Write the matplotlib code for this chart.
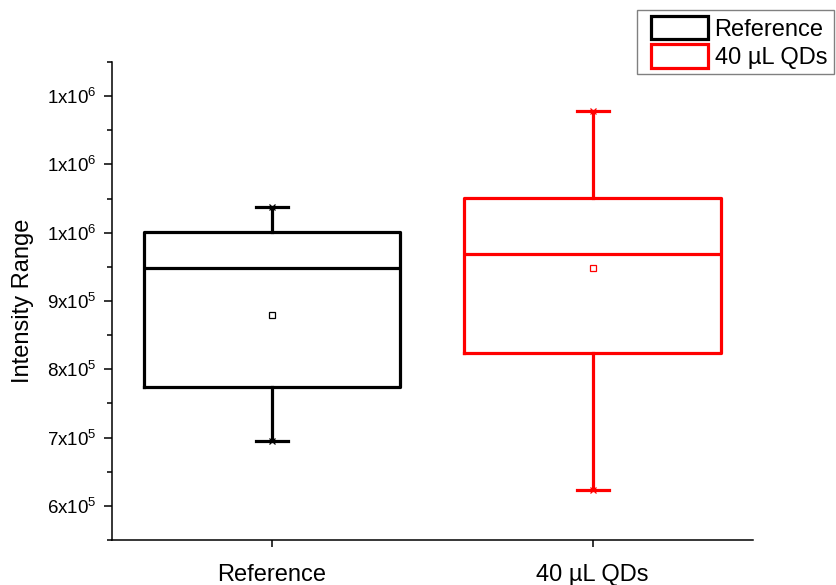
import matplotlib
matplotlib.use("Agg")
import matplotlib.pyplot as plt
from matplotlib.patches import Patch, Rectangle
from matplotlib.ticker import MultipleLocator

plt.rcParams['font.family'] = ['Liberation Sans', 'DejaVu Sans']
plt.rcParams['mathtext.fontset'] = 'custom'
plt.rcParams['mathtext.rm'] = 'Liberation Sans'
plt.rcParams['mathtext.it'] = 'Liberation Sans'

categories = ["Reference", "40 µL QDs"]
colors = ["#000000", "#ff0000"]
whisker_low = [694600, 622500]
q1 = [774000, 824500]
median = [948000, 969100]
q3 = [1001000, 1051500]
whisker_high = [1037800, 1178400]
means = [879900, 949000]

ytick_values = [6e5, 7e5, 8e5, 9e5, 1.0e6, 1.1e6, 1.2e6]
ytick_labels = ["6x10$^{5}$", "7x10$^{5}$", "8x10$^{5}$", "9x10$^{5}$",
                "1x10$^{6}$", "1x10$^{6}$", "1x10$^{6}$"]

fig = plt.figure(figsize=(8.37, 5.85), dpi=100)
ax = fig.add_axes([111.7/837, 45/585, (753-111.7)/837, (540-62)/585])

lw = 2.3
for i, cat in enumerate(categories):
    stats = [dict(label=cat, whislo=whisker_low[i], q1=q1[i], med=median[i],
                  q3=q3[i], whishi=whisker_high[i], mean=means[i], fliers=[])]
    c = colors[i]
    ax.bxp(stats, positions=[i + 1], widths=0.8, capwidths=0.1,
           showmeans=True, showfliers=False, manage_ticks=False,
           boxprops=dict(color=c, linewidth=lw),
           whiskerprops=dict(color=c, linewidth=lw),
           capprops=dict(color=c, linewidth=lw),
           medianprops=dict(color=c, linewidth=lw),
           meanprops=dict(marker='s', markerfacecolor='white',
                          markeredgecolor=c, markersize=4, markeredgewidth=0.9))
    ax.plot([i + 1, i + 1], [whisker_low[i], whisker_high[i]], linestyle='none',
            marker='x', color=c, markersize=5, markeredgewidth=0.9, zorder=5)

ax.set_xlim(0.5, 2.5)
ax.set_ylim(5.5e5, 1.25e6)
ax.set_xticks([1, 2])
ax.set_xticklabels(categories, fontsize=17)
ax.set_yticks(ytick_values)
ax.set_yticklabels(ytick_labels, fontsize=13.5)
ax.yaxis.set_minor_locator(MultipleLocator(5e4))
ax.tick_params(axis='y', which='major', direction='out', length=6, width=1.1, pad=5)
ax.tick_params(axis='y', which='minor', direction='out', length=3.5, width=1.1)
ax.tick_params(axis='x', which='major', direction='out', length=5, width=1.1, pad=12)
ax.spines['top'].set_visible(False)
ax.spines['right'].set_visible(False)
for s in ['left', 'bottom']:
    ax.spines[s].set_linewidth(1.1)
ax.set_ylabel("Intensity Range", fontsize=17, labelpad=9)

handles = [Patch(facecolor='white', edgecolor=colors[i], linewidth=lw, label=categories[i])
           for i in range(len(categories))]
leg = fig.legend(handles=handles, loc='upper right', bbox_to_anchor=(833/837, 1 - 10/585),
                 fontsize=17, frameon=False, handlelength=2.4,
                 handleheight=1.15, handletextpad=0.3, labelspacing=0.15,
                 borderpad=0.25, borderaxespad=0)
fig.patches.append(Rectangle((637/837, 1 - 74/585), (834 - 637)/837, 64/585,
                             transform=fig.transFigure, facecolor='white',
                             edgecolor='#808080', linewidth=1.0, zorder=0))

fig.savefig("out.png", dpi=100)
